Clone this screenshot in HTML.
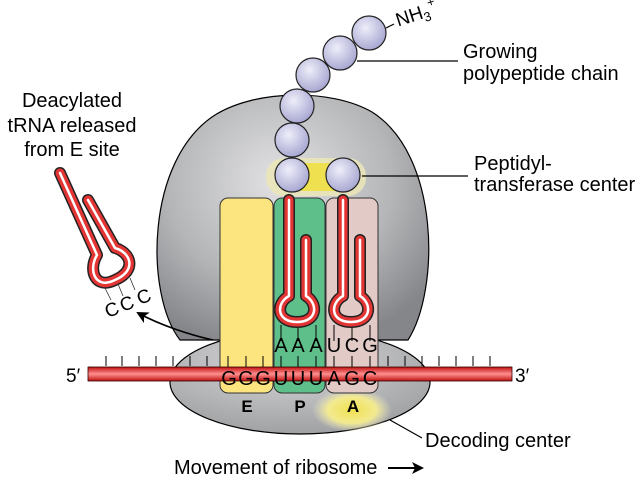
<!DOCTYPE html>
<html><head><style>
body{margin:0;background:#fff;}
svg{display:block;font-family:"Liberation Sans",sans-serif;}
</style></head><body>
<svg width="640" height="478" viewBox="0 0 640 478">
<defs>
<radialGradient id="g1" cx="0.45" cy="0.35" r="0.7">
<stop offset="0" stop-color="#e2e2e4"/><stop offset="0.6" stop-color="#b4b5b7"/><stop offset="1" stop-color="#85868a"/></radialGradient>
<radialGradient id="g2" cx="0.45" cy="0.3" r="0.7">
<stop offset="0" stop-color="#d8d8da"/><stop offset="1" stop-color="#a0a1a3"/></radialGradient>
<radialGradient id="ball" cx="0.4" cy="0.35" r="0.65">
<stop offset="0" stop-color="#eeeefa"/><stop offset="1" stop-color="#a9a8d2"/></radialGradient>
<radialGradient id="glow" cx="0.5" cy="0.5" r="0.5">
<stop offset="0" stop-color="#f0e050"/><stop offset="0.6" stop-color="#f3ea90"/><stop offset="1" stop-color="#ebe9c8" stop-opacity="0"/></radialGradient>
<linearGradient id="mr" x1="0" y1="0" x2="0" y2="1">
<stop offset="0" stop-color="#c01010"/><stop offset="0.5" stop-color="#ff9090"/><stop offset="1" stop-color="#c01010"/></linearGradient>
<marker id="ah" markerUnits="userSpaceOnUse" markerWidth="12" markerHeight="12" refX="10" refY="6" orient="auto"><path d="M0,0 L12,6 L0,12 L3,6z" fill="#000"/></marker>
</defs>
<!-- small subunit -->
<ellipse cx="300" cy="382" rx="130" ry="52" fill="url(#g2)" stroke="#000" stroke-width="1.2"/>
<!-- large subunit -->
<path d="M180,340 C145,295 145,160 215,115 C255,90 330,88 372,112 C440,155 440,290 408,340 Z" fill="url(#g1)" stroke="#000" stroke-width="1.2"/>
<!-- decoding glow -->
<ellipse cx="352" cy="410" rx="40" ry="22" fill="url(#glow)"/>
<!-- PT glow -->
<rect x="266" y="158" width="100" height="38" rx="18" fill="#e9e6b8" opacity="0.9"/>
<rect x="295" y="163" width="40" height="28" fill="#efe050"/>
<!-- sites -->
<rect x="220" y="198" width="53" height="195" rx="8" fill="#fce57e" stroke="#333"/>
<rect x="274" y="198" width="51" height="195" rx="8" fill="#5fbf8a" stroke="#333"/>
<rect x="326" y="198" width="52" height="195" rx="8" fill="#e2cac6" stroke="#333"/>
<!-- ticks -->
<g stroke="#000" stroke-width="1">
<path d="M106,356v10M122,356v10M139,356v10M156,356v10M173,356v10M190,356v10M207,356v10M228,356v14M246,356v14M263,356v14M281,356v14M298,356v14M316,356v14M334,356v14M352,356v14M370,356v14M388,356v10M405,356v10M422,356v10M439,356v10M456,356v10M473,356v10M490,356v10"/>
<path d="M281,325v16M298,325v16M316,325v16M334,325v16M352,325v16M370,325v16"/>
</g>
<!-- mRNA -->
<rect x="88" y="367" width="424" height="14" fill="url(#mr)" stroke="#300" stroke-width="0.8"/>
<text x="66" y="382" font-size="19">5′</text>
<text x="515" y="382" font-size="19">3′</text>
<g font-size="20" text-anchor="middle">
<text x="229" y="385">G</text><text x="246" y="385">G</text><text x="263" y="385">G</text>
<text x="281" y="385">U</text><text x="298" y="385">U</text><text x="316" y="385">U</text>
<text x="334" y="385">A</text><text x="352" y="385">G</text><text x="370" y="385">C</text>
<text x="281" y="352">A</text><text x="298" y="352">A</text><text x="316" y="352">A</text>
<text x="334" y="352">U</text><text x="352" y="352">C</text><text x="370" y="352">G</text>
</g>
<g font-size="17" font-weight="bold" text-anchor="middle">
<text x="247" y="412">E</text><text x="300" y="412">P</text><text x="353" y="412">A</text>
</g>
<!-- tRNAs -->
<g fill="none" stroke-linecap="round" stroke-linejoin="round">
<path d="M289,200 L289,296 C276,303 276,322 297,322 C318,322 318,303 306,296 L306,240" stroke="#222" stroke-width="12"/>
<path d="M289,200 L289,296 C276,303 276,322 297,322 C318,322 318,303 306,296 L306,240" stroke="#e43535" stroke-width="9"/>
<path d="M289,200 L289,296 C276,303 276,322 297,322 C318,322 318,303 306,296 L306,240" stroke="#fff" stroke-width="2.5"/>
<path d="M343,200 L343,296 C330,303 330,322 351,322 C372,322 372,303 360,296 L360,240" stroke="#222" stroke-width="12"/>
<path d="M343,200 L343,296 C330,303 330,322 351,322 C372,322 372,303 360,296 L360,240" stroke="#e43535" stroke-width="9"/>
<path d="M343,200 L343,296 C330,303 330,322 351,322 C372,322 372,303 360,296 L360,240" stroke="#fff" stroke-width="2.5"/>
<path d="M60,173 L97,255 C88,270 95,290 115,280 C138,270 130,252 115,248 L88,200" stroke="#222" stroke-width="12"/>
<path d="M60,173 L97,255 C88,270 95,290 115,280 C138,270 130,252 115,248 L88,200" stroke="#e43535" stroke-width="9"/>
<path d="M60,173 L97,255 C88,270 95,290 115,280 C138,270 130,252 115,248 L88,200" stroke="#fff" stroke-width="2.5"/>
</g>
<g stroke="#333" stroke-width="0.8"><path d="M105,288l6,12M118,284l5,12M130,278l5,12"/></g>
<g font-size="19" text-anchor="middle" fill="#000">
<text x="112" y="316" transform="rotate(-22 112 310)">C</text>
<text x="127" y="310" transform="rotate(-22 127 304)">C</text>
<text x="144" y="303" transform="rotate(-22 144 297)">C</text>
</g>
<path d="M213,340 C190,335 160,325 138,313" fill="none" stroke="#000" stroke-width="1.6" marker-end="url(#ah)"/>
<!-- chain -->
<g stroke="#222" stroke-width="1.2" fill="url(#ball)">
<circle cx="369" cy="33" r="17"/><circle cx="340" cy="53" r="17"/><circle cx="313" cy="75" r="17"/>
<circle cx="297" cy="106" r="17"/><circle cx="292" cy="140" r="17"/><circle cx="292" cy="175" r="17"/>
<circle cx="343" cy="175" r="17"/>
</g>
<text x="396" y="27" font-size="19" transform="rotate(-18 396 20)">NH<tspan font-size="13" dy="4">3</tspan><tspan font-size="13" dy="-13">+</tspan></text>
<g stroke="#000" stroke-width="1.2">
<line x1="386" y1="28" x2="394" y2="24"/>
<line x1="357" y1="61" x2="458" y2="61"/>
<line x1="362" y1="176" x2="468" y2="176"/>
<line x1="390" y1="420" x2="422" y2="438"/>
</g>
<g font-size="20" fill="#000">
<text x="463" y="58">Growing</text><text x="463" y="80">polypeptide chain</text>
<text x="474" y="170">Peptidyl-</text><text x="474" y="191">transferase center</text>
<text x="425" y="447">Decoding center</text>
<text x="174" y="474">Movement of ribosome</text>
</g>
<g font-size="20" text-anchor="middle"><text x="72" y="107">Deacylated</text><text x="72" y="132">tRNA released</text><text x="72" y="156">from E site</text></g>
<line x1="388" y1="468" x2="422" y2="468" stroke="#000" stroke-width="2" marker-end="url(#ah)"/>
</svg>
</body></html>
